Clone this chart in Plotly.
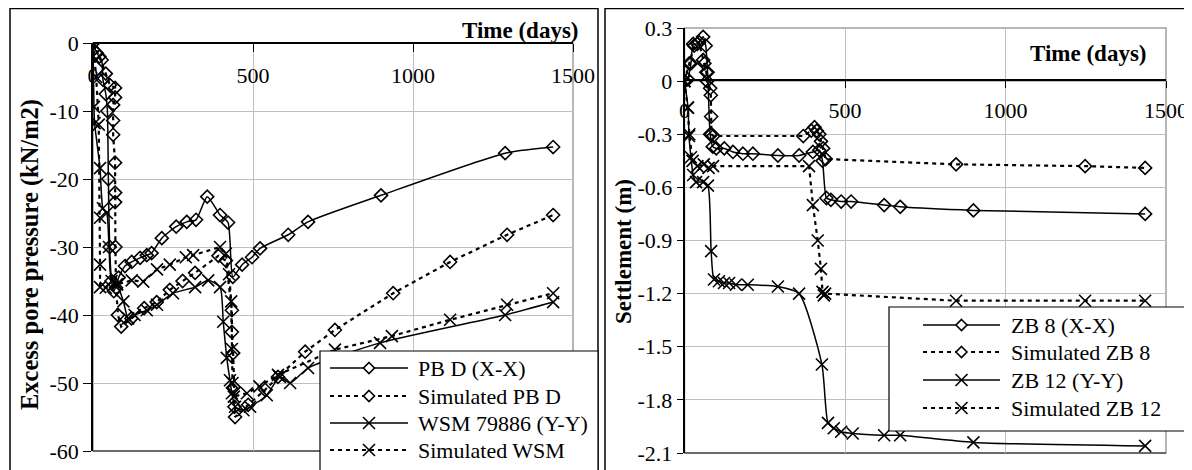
import plotly.graph_objects as go

# ---------------- data ----------------
# Left panel: excess pore pressure (kN/m2) vs time (days)
pbd_t = [0, 12, 27, 31, 40, 45, 48, 52, 58, 65, 80, 100, 121, 147, 168, 183, 215, 260, 293, 322, 357, 397, 422, 437, 466, 497, 522, 610, 672, 900, 1288, 1438]
pbd_v = [0, -1.5, -2.5, -5.4, -7.5, -10, -20, -30, -35, -36.5, -34.5, -32.8, -32.2, -31.6, -31.2, -30.9, -28.7, -27, -26.3, -26, -22.6, -25.3, -26.4, -34.4, -32.6, -31.5, -30.2, -28.2, -26.3, -22.4, -16.2, -15.3]

sim_pbd_t = [0, 20, 40, 53, 69, 69, 63, 63, 63, 69, 69, 69, 70, 72, 78, 88, 120, 160, 199, 240, 280, 319, 392, 415, 434, 434, 438, 440, 442, 444, 485, 538, 578, 663, 756, 938, 1116, 1294, 1438]
sim_pbd_v = [0, -2, -4.5, -6.2, -6.6, -8, -9.1, -11.4, -13.5, -17.6, -22, -23.4, -30, -36, -40, -41.7, -40.5, -39, -38.1, -36.3, -35, -33.8, -31.3, -32, -39.3, -42.5, -45.6, -50.6, -53.5, -55, -53.2, -51, -49.1, -45.4, -42.2, -36.8, -32.2, -28.2, -25.3]

wsm_t = [0, 3, 5, 22, 31, 43, 50, 58, 75, 95, 110, 130, 168, 200, 250, 319, 360, 397, 407, 418, 428, 434, 444, 470, 491, 543, 584, 616, 672, 897, 1288, 1438]
wsm_v = [0, -9.4, -11.8, -18.4, -24.3, -25, -30, -35, -35.5, -38, -40.5, -40, -39.3, -38.5, -36.8, -35.9, -34.9, -35.9, -41, -46.3, -49.6, -51.5, -53.5, -54, -53.5, -51.8, -49.1, -50, -47.8, -44.1, -40, -38.1]

sim_wsm_t = [0, 10, 18, 22, 22, 22, 40, 75, 121, 157, 200, 240, 290, 313, 397, 415, 425, 432, 434, 436, 440, 481, 520, 578, 756, 934, 1116, 1294, 1438]
sim_wsm_v = [0, -5, -12, -25.7, -32.6, -35.9, -36, -35.5, -34.9, -35.1, -33.3, -32.6, -31.5, -31.2, -30, -31, -34, -38, -45, -50, -52, -51.5, -50.5, -48.8, -45.1, -43.1, -40.7, -38.5, -36.8]

# Right panel: settlement (m) vs time (days)
zb8_t = [0, 10, 20, 27, 40, 58, 66, 72, 80, 88, 99, 124, 151, 182, 213, 291, 357, 400, 420, 430, 442, 456, 488, 519, 622, 672, 900, 1435]
zb8_v = [0, 0.01, 0.1, 0.21, 0.21, 0.25, 0.2, 0.05, -0.3, -0.37, -0.38, -0.38, -0.4, -0.41, -0.41, -0.42, -0.42, -0.4, -0.39, -0.45, -0.66, -0.67, -0.68, -0.68, -0.7, -0.71, -0.73, -0.75]

sim_zb8_t = [0, 15, 30, 45, 58, 62, 68, 70, 80, 82, 83, 84, 90, 370, 395, 405, 412, 420, 425, 432, 440, 846, 1248, 1435]
sim_zb8_v = [0, 0.1, 0.2, 0.22, 0.12, 0.1, 0.05, 0, -0.04, -0.08, -0.2, -0.3, -0.31, -0.31, -0.28, -0.26, -0.28, -0.3, -0.34, -0.38, -0.44, -0.47, -0.48, -0.49]

zb12_t = [0, 11, 14, 20, 27, 36, 58, 73, 83, 92, 107, 123, 139, 160, 197, 291, 357, 428, 447, 465, 488, 524, 622, 672, 900, 1435]
zb12_v = [0, -0.15, -0.31, -0.43, -0.53, -0.57, -0.57, -0.59, -0.96, -1.12, -1.13, -1.14, -1.14, -1.15, -1.15, -1.16, -1.2, -1.6, -1.93, -1.96, -1.98, -1.99, -2.0, -2.0, -2.04, -2.06]

sim_zb12_t = [0, 10, 15, 25, 40, 60, 75, 89, 388, 400, 415, 425, 430, 434, 438, 846, 1248, 1435]
sim_zb12_v = [0, -0.15, -0.3, -0.45, -0.48, -0.47, -0.49, -0.48, -0.48, -0.7, -0.9, -1.06, -1.19, -1.21, -1.2, -1.24, -1.24, -1.24]

# axis ticks
x_ticks = [0, 500, 1000, 1500]
x_ticktext = ["0", "500", "1000", "1500"]
left_y_ticks = [0, -10, -20, -30, -40, -50, -60]
left_y_ticktext = ["0", "-10", "-20", "-30", "-40", "-50", "-60"]
right_y_ticks = [0.3, 0, -0.3, -0.6, -0.9, -1.2, -1.5, -1.8, -2.1]
right_y_ticktext = ["0.3", "0", "-0.3", "-0.6", "-0.9", "-1.2", "-1.5", "-1.8", "-2.1"]

left_names = ["PB D (X-X)", "Simulated PB D", "WSM 79886 (Y-Y)", "Simulated WSM"]
right_names = ["ZB 8 (X-X)", "Simulated ZB 8", "ZB 12 (Y-Y)", "Simulated ZB 12"]

# ---------------- layout geometry ----------------
# the page adds an 8 px body margin, so the figure is 1184x462 and placed at (8, 8)
OFF = 8
FW, FH = 1192 - OFF, 470 - OFF
FONT = "Liberation Serif"


def px(xp):
    return (xp - OFF) / FW


def py(yp):
    return 1 - (yp - OFF) / FH


DIAMOND = dict(symbol="diamond-open", size=10, color="black", line=dict(width=1.6, color="black"))
CROSS = dict(symbol="x-thin", size=12, color="black", line=dict(width=1.6, color="black"))
SOLID = dict(color="black", width=1.5, shape="spline", smoothing=0.6)
DASH = "4px,4px"
DASHED = dict(color="black", width=2.2, dash=DASH)

fig = go.Figure()


def add(t, v, name, line, marker, xa, ya):
    fig.add_trace(go.Scatter(x=t, y=v, name=name, mode="lines+markers", line=line,
                             marker=marker, xaxis=xa, yaxis=ya, showlegend=False))


add(pbd_t, pbd_v, left_names[0], SOLID, DIAMOND, "x", "y")
add(sim_pbd_t, sim_pbd_v, left_names[1], DASHED, DIAMOND, "x", "y")
add(wsm_t, wsm_v, left_names[2], SOLID, CROSS, "x", "y")
add(sim_wsm_t, sim_wsm_v, left_names[3], DASHED, CROSS, "x", "y")

add(zb8_t, zb8_v, right_names[0], SOLID, DIAMOND, "x2", "y2")
add(sim_zb8_t, sim_zb8_v, right_names[1], DASHED, DIAMOND, "x2", "y2")
add(zb12_t, zb12_v, right_names[2], SOLID, CROSS, "x2", "y2")
add(sim_zb12_t, sim_zb12_v, right_names[3], DASHED, CROSS, "x2", "y2")

GRID = "#c0c0c0"
tickfont = dict(family=FONT, size=22, color="black")

left_dom_x = [px(93), px(573)]
left_dom_y = [py(451), py(43)]
right_dom_x = [px(684.5), px(1166)]
right_dom_y = [py(453), py(28)]

common = dict(tickmode="array", tickwidth=1.2, tickcolor="black", showline=True, linecolor="black",
              linewidth=1.5, showgrid=True, gridcolor=GRID, gridwidth=1, zeroline=False,
              tickfont=tickfont, automargin=False, ticks="outside")

fig.update_layout(
    template="none",
    width=FW, height=FH, margin=dict(l=0, r=0, t=0, b=0, autoexpand=False),
    paper_bgcolor="white", plot_bgcolor="white",
    font=dict(family=FONT, size=22, color="black"),
    showlegend=False,
    xaxis=dict(domain=left_dom_x, range=[0, 1500], tickvals=x_ticks, ticktext=x_ticktext,
               anchor="free", position=py(43), side="bottom", ticklen=8, ticklabelstandoff=5, **common),
    yaxis=dict(domain=left_dom_y, range=[-60, 0], tickvals=left_y_ticks, ticktext=left_y_ticktext,
               anchor="x", ticklen=8, **common),
    xaxis2=dict(domain=right_dom_x, range=[0, 1500], tickvals=x_ticks, ticktext=x_ticktext,
                anchor="free", position=py(80), side="bottom", ticklen=7, ticklabelstandoff=4, **common),
    yaxis2=dict(domain=right_dom_y, range=[-2.1, 0.3], tickvals=right_y_ticks, ticktext=right_y_ticktext,
                anchor="x2", ticklen=6, **common),
)

shapes = []
# plot-area borders (grey) drawn beneath the data
for xr, yr in (("x domain", "y domain"), ("x2 domain", "y2 domain")):
    shapes.append(dict(type="rect", xref=xr, yref=yr, x0=0, x1=1, y0=0, y1=1,
                       line=dict(color="#a0a0a0", width=1.5), layer="below"))
    shapes.append(dict(type="line", xref=xr, yref=yr, x0=0, x1=1, y0=0, y1=0,
                       line=dict(color="#505050", width=1.5), layer="below"))
# outer panel frames
shapes.append(dict(type="rect", xref="paper", yref="paper", x0=px(10), x1=px(598), y0=-0.05, y1=py(8.5),
                   line=dict(color="black", width=1.5)))
shapes.append(dict(type="rect", xref="paper", yref="paper", x0=px(605), x1=1.02, y0=-0.05, y1=py(8.5),
                   line=dict(color="black", width=1.5)))

annotations = []


def draw_legend(box, rows, line_x, text_x, names, styles):
    x0, y0, x1, y1 = box
    shapes.append(dict(type="rect", xref="paper", yref="paper", x0=px(x0), x1=px(x1), y0=py(y1), y1=py(y0),
                       fillcolor="white", line=dict(color="black", width=1.2)))
    for ry, name, (dashed, sym) in zip(rows, names, styles):
        shapes.append(dict(type="line", xref="paper", yref="paper", x0=px(line_x[0]), x1=px(line_x[1]),
                           y0=py(ry), y1=py(ry),
                           line=dict(color="black", width=2.2 if dashed else 1.5, dash=DASH if dashed else "solid")))
        cx = (line_x[0] + line_x[1]) / 2
        if sym == "diamond":
            r = 5.5
            path = (f"M {px(cx)},{py(ry - r)} L {px(cx + r)},{py(ry)} L {px(cx)},{py(ry + r)} "
                    f"L {px(cx - r)},{py(ry)} Z")
            shapes.append(dict(type="path", xref="paper", yref="paper", path=path, fillcolor="white",
                               line=dict(color="black", width=1.6)))
        else:
            r = 6
            for sgn in (1, -1):
                shapes.append(dict(type="line", xref="paper", yref="paper", x0=px(cx - r), x1=px(cx + r),
                                   y0=py(ry - sgn * r), y1=py(ry + sgn * r),
                                   line=dict(color="black", width=1.6)))
        annotations.append(dict(text=name, xref="paper", yref="paper", x=px(text_x), y=py(ry),
                                xanchor="left", yanchor="middle", showarrow=False,
                                font=dict(family=FONT, size=22, color="black")))


styles = [(False, "diamond"), (True, "diamond"), (False, "x"), (True, "x")]
draw_legend((320, 351, 598, 480), [368, 396, 423, 450], (330, 408), 416, left_names, styles)
draw_legend((889, 307, 1191, 431), [325, 352, 380, 408], (923, 1000), 1009, right_names, styles)

title_font = dict(family=FONT, size=23, color="black")
annotations += [
    dict(text="<b>Time (days)</b>", xref="paper", yref="paper", x=px(581), y=py(30),
         xanchor="right", yanchor="middle", showarrow=False, font=title_font),
    dict(text="<b>Time (days)</b>", xref="paper", yref="paper", x=px(1149), y=py(54),
         xanchor="right", yanchor="middle", showarrow=False, font=title_font),
    dict(text="<b>Excess pore pressure (kN/m2)</b>", xref="paper", yref="paper", x=px(30), y=py(255),
         xanchor="center", yanchor="middle", textangle=-90, showarrow=False,
         font=dict(family=FONT, size=24.5, color="black")),
    dict(text="<b>Settlement (m)</b>", xref="paper", yref="paper", x=px(623), y=py(252),
         xanchor="center", yanchor="middle", textangle=-90, showarrow=False, font=title_font),
]

fig.update_layout(shapes=shapes, annotations=annotations)

fig.write_html("out.html")
